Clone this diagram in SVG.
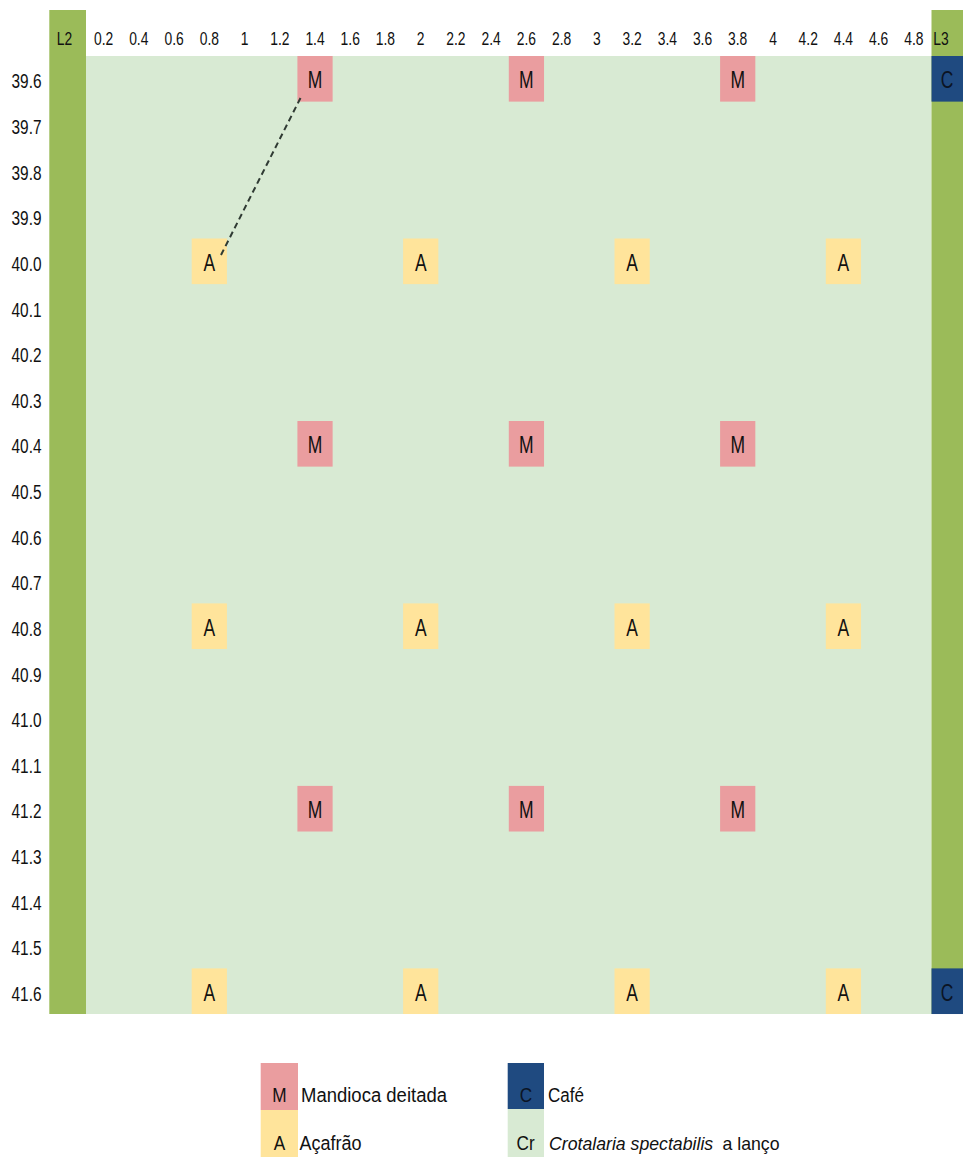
<svg xmlns="http://www.w3.org/2000/svg" width="963" height="1157" viewBox="0 0 963 1157">
<style>
text{font-family:"Liberation Sans",Arial,sans-serif;fill:#111;text-anchor:middle;transform-box:fill-box;transform-origin:center}
.hd{font-size:18px;transform:scaleX(0.77)}
.rl{font-size:20px;transform:scaleX(0.77)}
.cl{font-size:23px;transform:scaleX(0.76)}
.lg{font-size:21px;transform:scaleX(0.82)}
.lt{font-size:19.5px;text-anchor:start}
.lc{font-size:17.7px;text-anchor:start}
.it{font-style:italic}
.band{fill:#9BBB59}
.grid{fill:#D8EAD3}
.m{fill:#EA9D9F}
.a{fill:#FFE49B}
.c{fill:#1F4A80}
.cr{fill:#D8EAD3}
.ctext{fill:#0b1424}
.conn{stroke:#2f3a33;stroke-width:2;stroke-dasharray:6 4;fill:none}
</style>

<g id="field">
<rect class="band" x="49.3" y="10" width="36.7" height="1004"/>
<rect class="grid" x="86" y="56" width="845.5" height="958"/>
<rect class="band" x="931.5" y="10" width="31.5" height="1004"/>
</g>

<g id="header">
<text class="hd" x="64.5" y="45">L2</text>
<text class="hd" x="103.6" y="45">0.2</text>
<text class="hd" x="138.8" y="45">0.4</text>
<text class="hd" x="174.1" y="45">0.6</text>
<text class="hd" x="209.3" y="45">0.8</text>
<text class="hd" x="244.5" y="45">1</text>
<text class="hd" x="279.8" y="45">1.2</text>
<text class="hd" x="315.0" y="45">1.4</text>
<text class="hd" x="350.2" y="45">1.6</text>
<text class="hd" x="385.4" y="45">1.8</text>
<text class="hd" x="420.7" y="45">2</text>
<text class="hd" x="455.9" y="45">2.2</text>
<text class="hd" x="491.1" y="45">2.4</text>
<text class="hd" x="526.4" y="45">2.6</text>
<text class="hd" x="561.6" y="45">2.8</text>
<text class="hd" x="596.8" y="45">3</text>
<text class="hd" x="632.1" y="45">3.2</text>
<text class="hd" x="667.3" y="45">3.4</text>
<text class="hd" x="702.5" y="45">3.6</text>
<text class="hd" x="737.7" y="45">3.8</text>
<text class="hd" x="773.0" y="45">4</text>
<text class="hd" x="808.2" y="45">4.2</text>
<text class="hd" x="843.4" y="45">4.4</text>
<text class="hd" x="878.7" y="45">4.6</text>
<text class="hd" x="913.9" y="45">4.8</text>
<text class="hd" x="941" y="45">L3</text>
</g>

<g id="rows">
<text class="rl" x="26.5" y="88.5">39.6</text>
<text class="rl" x="26.5" y="134.1">39.7</text>
<text class="rl" x="26.5" y="179.7">39.8</text>
<text class="rl" x="26.5" y="225.4">39.9</text>
<text class="rl" x="26.5" y="271.0">40.0</text>
<text class="rl" x="26.5" y="316.6">40.1</text>
<text class="rl" x="26.5" y="362.2">40.2</text>
<text class="rl" x="26.5" y="407.8">40.3</text>
<text class="rl" x="26.5" y="453.5">40.4</text>
<text class="rl" x="26.5" y="499.1">40.5</text>
<text class="rl" x="26.5" y="544.7">40.6</text>
<text class="rl" x="26.5" y="590.3">40.7</text>
<text class="rl" x="26.5" y="635.9">40.8</text>
<text class="rl" x="26.5" y="681.6">40.9</text>
<text class="rl" x="26.5" y="727.2">41.0</text>
<text class="rl" x="26.5" y="772.8">41.1</text>
<text class="rl" x="26.5" y="818.4">41.2</text>
<text class="rl" x="26.5" y="864.0">41.3</text>
<text class="rl" x="26.5" y="909.7">41.4</text>
<text class="rl" x="26.5" y="955.3">41.5</text>
<text class="rl" x="26.5" y="1000.9">41.6</text>
</g>

<g id="m-39.6-1.4"><rect class="m" x="297.4" y="56" width="35.23" height="45.62"/><text class="cl" x="315.0" y="88.5">M</text></g>
<g id="m-39.6-2.6"><rect class="m" x="508.8" y="56" width="35.23" height="45.62"/><text class="cl" x="526.4" y="88.5">M</text></g>
<g id="m-39.6-3.8"><rect class="m" x="720.1" y="56" width="35.23" height="45.62"/><text class="cl" x="737.7" y="88.5">M</text></g>
<g id="m-40.4-1.4"><rect class="m" x="297.4" y="421.0" width="35.23" height="45.62"/><text class="cl" x="315.0" y="453.5">M</text></g>
<g id="m-40.4-2.6"><rect class="m" x="508.8" y="421.0" width="35.23" height="45.62"/><text class="cl" x="526.4" y="453.5">M</text></g>
<g id="m-40.4-3.8"><rect class="m" x="720.1" y="421.0" width="35.23" height="45.62"/><text class="cl" x="737.7" y="453.5">M</text></g>
<g id="m-41.2-1.4"><rect class="m" x="297.4" y="785.9" width="35.23" height="45.62"/><text class="cl" x="315.0" y="818.4">M</text></g>
<g id="m-41.2-2.6"><rect class="m" x="508.8" y="785.9" width="35.23" height="45.62"/><text class="cl" x="526.4" y="818.4">M</text></g>
<g id="m-41.2-3.8"><rect class="m" x="720.1" y="785.9" width="35.23" height="45.62"/><text class="cl" x="737.7" y="818.4">M</text></g>

<g id="a-40.0-0.8"><rect class="a" x="191.7" y="238.5" width="35.23" height="45.62"/><text class="cl" x="209.3" y="271">A</text></g>
<g id="a-40.0-2"><rect class="a" x="403.1" y="238.5" width="35.23" height="45.62"/><text class="cl" x="420.7" y="271">A</text></g>
<g id="a-40.0-3.2"><rect class="a" x="614.5" y="238.5" width="35.23" height="45.62"/><text class="cl" x="632.1" y="271">A</text></g>
<g id="a-40.0-4.4"><rect class="a" x="825.8" y="238.5" width="35.23" height="45.62"/><text class="cl" x="843.4" y="271">A</text></g>
<g id="a-40.8-0.8"><rect class="a" x="191.7" y="603.4" width="35.23" height="45.62"/><text class="cl" x="209.3" y="635.9">A</text></g>
<g id="a-40.8-2"><rect class="a" x="403.1" y="603.4" width="35.23" height="45.62"/><text class="cl" x="420.7" y="635.9">A</text></g>
<g id="a-40.8-3.2"><rect class="a" x="614.5" y="603.4" width="35.23" height="45.62"/><text class="cl" x="632.1" y="635.9">A</text></g>
<g id="a-40.8-4.4"><rect class="a" x="825.8" y="603.4" width="35.23" height="45.62"/><text class="cl" x="843.4" y="635.9">A</text></g>
<g id="a-41.6-0.8"><rect class="a" x="191.7" y="968.4" width="35.23" height="45.62"/><text class="cl" x="209.3" y="1000.9">A</text></g>
<g id="a-41.6-2"><rect class="a" x="403.1" y="968.4" width="35.23" height="45.62"/><text class="cl" x="420.7" y="1000.9">A</text></g>
<g id="a-41.6-3.2"><rect class="a" x="614.5" y="968.4" width="35.23" height="45.62"/><text class="cl" x="632.1" y="1000.9">A</text></g>
<g id="a-41.6-4.4"><rect class="a" x="825.8" y="968.4" width="35.23" height="45.62"/><text class="cl" x="843.4" y="1000.9">A</text></g>

<g id="c-39.6"><rect class="c" x="931.5" y="56" width="31.5" height="45.62"/><text class="cl ctext" x="947" y="88.5">C</text></g>
<g id="c-41.6"><rect class="c" x="931.5" y="968.4" width="31.5" height="45.62"/><text class="cl ctext" x="947" y="1000.9">C</text></g>

<g id="connectors">
<line class="conn" x1="300.5" y1="98" x2="220" y2="257"/>
</g>

<g id="legend">
<g id="leg-m"><rect class="m" x="260.7" y="1063" width="37.3" height="47"/><text class="lg" x="279.4" y="1102">M</text><text class="lt" x="301" y="1102" textLength="146" lengthAdjust="spacingAndGlyphs">Mandioca deitada</text></g>
<g id="leg-a"><rect class="a" x="260.7" y="1110" width="37.3" height="47"/><text class="lg" x="279.4" y="1150">A</text><text class="lt" x="299.5" y="1150" textLength="62" lengthAdjust="spacingAndGlyphs">Açafrão</text></g>
<g id="leg-c"><rect class="c" x="507.7" y="1063" width="36.3" height="46"/><text class="lg ctext" x="526" y="1102">C</text><text class="lt" x="548" y="1102" textLength="36" lengthAdjust="spacingAndGlyphs">Café</text></g>
<g id="leg-cr"><rect class="cr" x="507.7" y="1109" width="36.3" height="48"/><text class="lg" x="525.5" y="1150">Cr</text><text class="lc it" x="549" y="1150">Crotalaria spectabilis</text><text class="lc" x="722.5" y="1150">a lanço</text></g>
</g>
</svg>
